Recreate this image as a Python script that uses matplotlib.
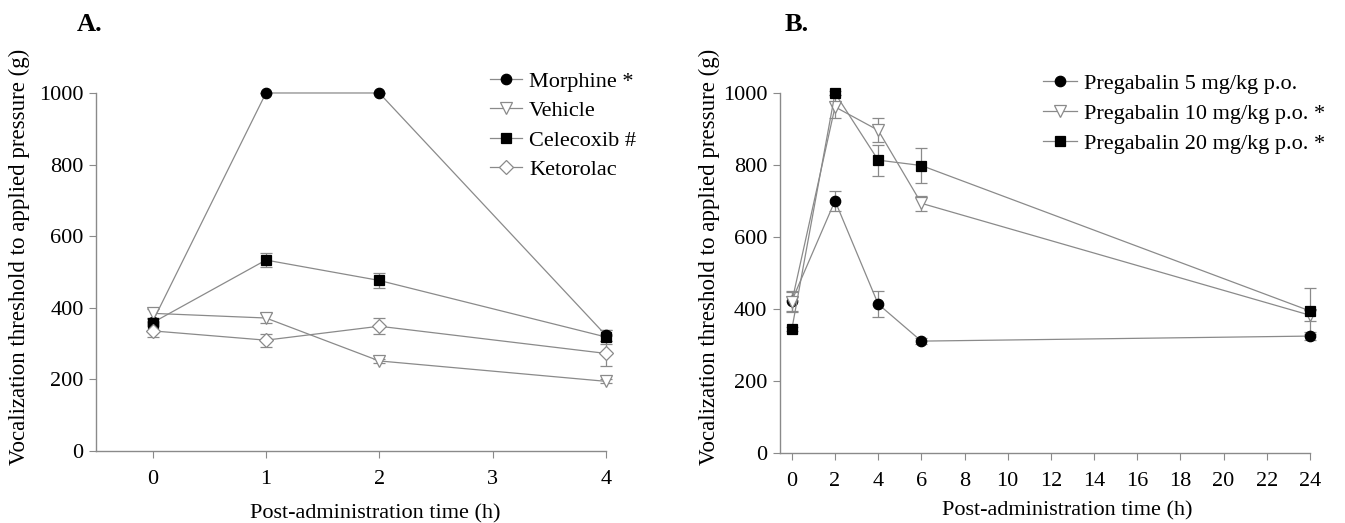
import matplotlib
matplotlib.use("Agg")
import matplotlib.pyplot as plt
from matplotlib.lines import Line2D

plt.rcParams['font.family'] = ['Liberation Serif', 'DejaVu Serif']

# Panel A data
time_a = [0, 1, 2, 4]
morphine = [361, 1000, 1000, 323]
morphine_err = [10, 0, 0, 15]
vehicle = [384, 371, 251, 194]
vehicle_err = [12, 14, 5, 6]
celecoxib = [358, 533, 476, 318]
celecoxib_err = [10, 20, 22, 20]
ketorolac = [335, 309, 348, 272]
ketorolac_err = [18, 18, 22, 35]

# Panel B data
time_b = [0, 2, 4, 6, 24]
preg5 = [423, 701, 414, 311, 325]
preg5_err = [27, 27, 35, 8, 12]
preg10 = [420, 962, 897, 694, 383]
preg10_err = [28, 32, 34, 20, 15]
preg20 = [344, 1000, 814, 799, 395]
preg20_err = [6, 5, 43, 48, 64]

GRAY = '#8a8a8a'
FS = 16


def draw(ax, x, y, err, marker, face, label, ms=7.5):
    edge = 'black' if face == 'black' else GRAY
    ax.errorbar(x, y, yerr=err, fmt='none', ecolor=GRAY, elinewidth=0.9,
                capsize=4.5, capthick=0.9, clip_on=False)
    ax.plot(x, y, color=GRAY, lw=0.9, marker=marker, markersize=ms,
            markerfacecolor=face, markeredgecolor=edge, markeredgewidth=0.9,
            clip_on=False, zorder=3)
    return Line2D([], [], color=GRAY, lw=0.9, marker=marker, markersize=ms,
                  markerfacecolor=face, markeredgecolor=edge, markeredgewidth=0.9,
                  label=label)


def style(ax, xticks, xlim, ylab_xy, xlab_xy):
    for s in ['top', 'right']:
        ax.spines[s].set_visible(False)
    for s in ['left', 'bottom']:
        ax.spines[s].set_color(GRAY)
        ax.spines[s].set_linewidth(1.0)
    ax.set_ylim(0, 1000)
    ax.set_xlim(*xlim)
    ax.set_yticks([0, 200, 400, 600, 800, 1000])
    ax.set_xticks(xticks)
    ax.tick_params(axis='y', direction='out', length=5, color=GRAY, labelsize=FS, pad=4)
    ax.tick_params(axis='x', direction='out', length=5, color=GRAY, labelsize=FS, pad=9)
    ax.set_ylabel('Vocalization threshold to applied pressure (g)', fontsize=16.5)
    ax.set_xlabel('Post-administration time (h)', fontsize=FS)
    ax.yaxis.set_label_coords(*ylab_xy)
    ax.xaxis.set_label_coords(*xlab_xy)


fig = plt.figure(figsize=(13.45, 5.23), dpi=100)

ax1 = fig.add_axes([0.0714, 0.1382, 0.379, 0.684])
h = [draw(ax1, time_a, morphine, morphine_err, 'o', 'black', 'Morphine *'),
     draw(ax1, time_a, vehicle, vehicle_err, 'v', 'white', 'Vehicle', ms=8.5),
     draw(ax1, time_a, celecoxib, celecoxib_err, 's', 'black', 'Celecoxib #', ms=7),
     draw(ax1, time_a, ketorolac, ketorolac_err, 'D', 'white', 'Ketorolac', ms=7.5)]
style(ax1, [0, 1, 2, 3, 4], (-0.5, 4), (-0.129, 0.5415), (0.547, -0.149))
ax1.legend(handles=h, loc='upper left', bbox_to_anchor=(0.3576, 0.881),
           bbox_transform=fig.transFigure, frameon=False, fontsize=FS,
           handlelength=1.45, labelspacing=0.40, handletextpad=0.32, borderaxespad=0)
fig.text(0.0572, 0.953, 'A.', fontsize=19, fontweight='bold', va='center')

ax2 = fig.add_axes([0.5799, 0.1338, 0.394, 0.688])
h = [draw(ax2, time_b, preg5, preg5_err, 'o', 'black', 'Pregabalin 5 mg/kg p.o.'),
     draw(ax2, time_b, preg10, preg10_err, 'v', 'white', 'Pregabalin 10 mg/kg p.o. *', ms=8.5),
     draw(ax2, time_b, preg20, preg20_err, 's', 'black', 'Pregabalin 20 mg/kg p.o. *', ms=7)]
style(ax2, list(range(0, 25, 2)), (-0.55, 24), (-0.113, 0.545), (0.5415, -0.133))
ax2.legend(handles=h, loc='upper left', bbox_to_anchor=(0.769, 0.877),
           bbox_transform=fig.transFigure, frameon=False, fontsize=FS,
           handlelength=1.5, labelspacing=0.43, handletextpad=0.32, borderaxespad=0)
fig.text(0.5836, 0.954, 'B.', fontsize=19, fontweight='bold', va='center')

fig.savefig('out.png', dpi=100)
